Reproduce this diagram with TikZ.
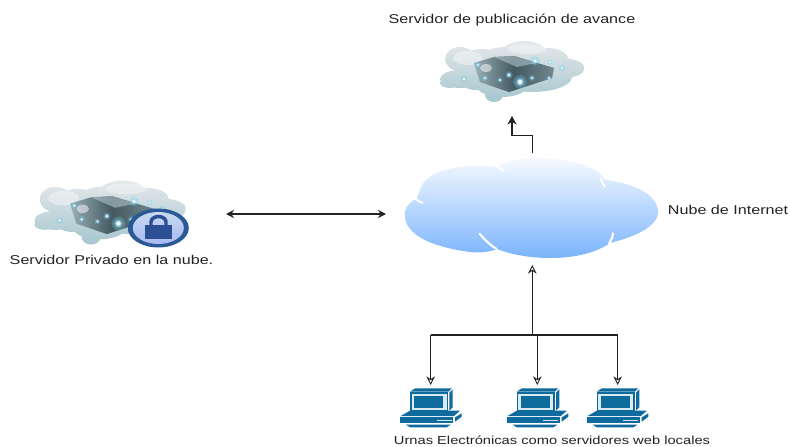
\documentclass[tikz,border=0pt]{standalone}
\usepackage{fontspec}
\setmainfont[FakeStretch=1.26]{Liberation Sans}
\usetikzlibrary{arrows.meta,calc}
\definecolor{pcblue}{HTML}{0F6A9D}
\definecolor{inkc}{HTML}{222222}
\definecolor{glow}{HTML}{6FD0F2}
\definecolor{cloudtop}{HTML}{F6FAFF}
\definecolor{cloudbot}{HTML}{7AB4FC}
\definecolor{fogtop}{HTML}{E4E8EA}
\definecolor{fogbot}{HTML}{A6C6CF}
\definecolor{lockrim}{HTML}{2A5A96}
\definecolor{lockin}{HTML}{C6D9F0}
\definecolor{lockbody}{HTML}{2C4F94}
\tikzset{
  x=0.75pt,y=-0.75pt,
  label text/.style={font=\fontsize{9.6pt}{11pt}\selectfont,text=inkc,inner sep=0pt,anchor=center},
  ghost/.style 2 args={inner sep=0pt,outer sep=0pt,minimum width=#1*0.75pt,minimum height=#2*0.75pt},
  wire/.style={draw=inkc,line width=0.95pt},
  opentip/.style={-{Stealth[open,length=6.5pt,width=6.5pt,line width=0.7pt]}},
  solidtip/.style={-{Stealth[length=6.5pt,width=7pt]}},
  slit/.style={draw=white,line width=1.6pt},
  pics/dot/.style={code={
    \fill[glow,opacity=.3] (0,0) circle (#1*2.4);
    \fill[glow!60!white,opacity=.6] (0,0) circle (#1*1.4);
    \fill[white] (0,0) circle (#1*.75);
  }},
  pics/serverico/.style={code={
    \shade[top color=fogtop,bottom color=fogbot]
      (-52,8) ellipse (20 and 9)
      (-52,-12) ellipse (15 and 12)
      (-30,-6) ellipse (24 and 16)
      (-8,-14) ellipse (20 and 10)
      (12,-16) ellipse (24 and 14)
      (36,-12) ellipse (20 and 11)
      (48,-4) ellipse (24 and 9)
      (58,-2) ellipse (14 and 8)
      (20,6) ellipse (40 and 15)
      (-10,14) ellipse (26 and 12)
      (-18,24) ellipse (9 and 7)
      (-36,12) ellipse (14 and 7)
      (-62,12) ellipse (10 and 5);
    \fill[white,opacity=.4] (-44,-13) ellipse (15 and 7);
    \fill[white,opacity=.35] (15,-22) ellipse (20 and 5);
    \shade[left color=black!35,right color=black!55,middle color=black!78]
      (-38,-8) -- (-18,-14) -- (2,-15) -- (42,-3) -- (40,7) -- (-3,21) -- (-32,11) -- cycle;
    \fill[black!25,opacity=.6] (-18,-14) -- (2,-15) -- (24,-8) -- (5,-4) -- cycle;
    \fill[glow,opacity=.22] (-38,-8) -- (-18,-14) -- (2,-15) -- (42,-3) -- (40,7) -- (-3,21) -- (-32,11) -- cycle;
    \fill[white,opacity=.5] (-26,-3) ellipse (6 and 4);
    \pic at (23,-10) {dot=2};
    \pic at (8,11) {dot=2.8};
    \pic at (-3,4) {dot=1.5};
    \pic at (-27,7) {dot=1.3};
    \pic at (-12,9) {dot=1.2};
    \pic at (20,7) {dot=1.3};
    \pic at (37,7) {dot=1.1};
    \pic at (50,-3) {dot=1.3};
    \pic at (-48,8) {dot=1.4};
    \pic at (-34,-6) {dot=1.3};
    \pic at (38,-9) {dot=1.1};
  }},
  pics/pcico/.style={code={
    \begin{scope}[scale=.3333]
      \fill[pcblue] (-60,-45) -- (-45,-55) -- (65,-55) -- (55,-45) -- cycle;
      \fill[pcblue] (58,-42) -- (68,-52) -- (68,2) -- (58,12) -- cycle;
      \fill[pcblue] (-60,-43) rectangle (55,15);
      \fill[white!85!pcblue] (-55,-38) rectangle (50,10);
      \fill[pcblue] (-47,-33) rectangle (40,5);
      \fill[pcblue] (-60,12) -- (90,12) -- (72,28) -- (-88,28) -- cycle;
      \fill[pcblue] (-90,32) -- (70,32) -- (70,50) -- (-90,50) -- cycle;
      \fill[white!85!pcblue] (20,39) rectangle (65,43);
      \fill[pcblue] (75,32) -- (95,20) -- (95,30) -- (75,45) -- cycle;
      \fill[pcblue] (-72,54) -- (62,54) -- (50,62) -- (-60,62) -- cycle;
    \end{scope}
  }}
}
\begin{document}
\begin{tikzpicture}
\useasboundingbox (0,0) rectangle (788,446);

% internet cloud
\shade[top color=cloudtop,bottom color=cloudbot]
  (416,199) .. controls (406,204) and (404,211) .. (405,217)
  .. controls (406,232) and (425,246) .. (470,252)
  .. controls (480,253) and (490,252) .. (497,249)
  .. controls (515,256) and (535,258) .. (550,258)
  .. controls (585,258) and (603,248) .. (610,243)
  .. controls (630,238) and (658,228) .. (658,212)
  .. controls (658,195) and (635,183) .. (605,180)
  .. controls (597,165) and (570,158) .. (533,158)
  .. controls (518,158) and (505,162) .. (497,167)
  .. controls (460,163) and (425,170) .. (420,190)
  .. controls (419,193) and (418,196) .. (416,199) -- cycle;
\draw[slit] (479.3,233.3) .. controls (484,239) and (490,245) .. (496.7,249);
\draw[slit] (613,232.7) .. controls (613,237) and (611,240) .. (609,244);
\draw[slit] (600.7,178) .. controls (602,182) and (603,185) .. (605,187);
\draw[slit] (497,166) .. controls (499,168) and (501,170) .. (504,171);
\draw[slit] (415,198) .. controls (418,201) and (420,202) .. (423,203);
\node[ghost={253}{100}] (internet) at (532.3,208) {};

% servers
\pic at (512,71) {serverico};
\node[ghost={145}{62}] (pub) at (512,71) {};
\pic[scale=1.05] at (110,212) {serverico};
\node[ghost={154}{65}] (priv) at (110,212) {};

% lock
\fill[lockrim] (158.3,228) ellipse (30.5 and 19.5);
\shade[top color=lockin,bottom color=lockin!85!blue] (158.3,228) ellipse (25.5 and 16);
\draw[lockbody,line width=2.6pt] (151,226) -- (151,222) arc[start angle=180,end angle=360,x radius=7.5,y radius=5.5] -- (166,226);
\fill[lockbody] (145,225) rectangle (172,239);

% computers
\node[ghost={62}{40}] (pc1) at (430.7,405) {};
\node[ghost={62}{40}] (pc2) at (537.3,405) {};
\node[ghost={62}{40}] (pc3) at (617.7,405) {};
\pic at (430,406.7) {pcico};
\pic at (536.7,406.7) {pcico};
\pic at (616.7,406.7) {pcico};

% connectors
\coordinate (junction) at (532.3,335);
\coordinate (netup) at (532.7,153);
\coordinate (pubin) at (512,116);
\coordinate (privport) at (226,214);
\coordinate (netport) at (386,214);
\draw[wire,opentip,shorten >=5.25pt] (junction) -- (internet.south);
\draw[wire] (pc1.north |- junction) -- (pc3.north |- junction);
\draw[wire,opentip] (pc1.north |- junction) -- (pc1.north);
\draw[wire,opentip] (pc2.north |- junction) -- (pc2.north);
\draw[wire,opentip] (pc3.north |- junction) -- (pc3.north);
\draw[wire,solidtip] (netup) |- ($(netup)!.5!(pubin)+(0,1)$) -| (pubin);
\draw[wire,{Stealth[length=6pt,width=6pt]}-{Stealth[length=6pt,width=6pt]}] (privport) -- (netport);

% labels
\node[label text] (t1) at (512,20) {Servidor de publicación de avance};
\node[label text] (t2) at (728,210) {Nube de Internet};
\node[label text] (t3) at (111.5,260) {Servidor Privado en la nube.};
\node[label text,font=\fontsize{8.75pt}{11pt}\selectfont] (t4) at (552,440) {Urnas Electrónicas como servidores web locales};
\end{tikzpicture}
\end{document}
